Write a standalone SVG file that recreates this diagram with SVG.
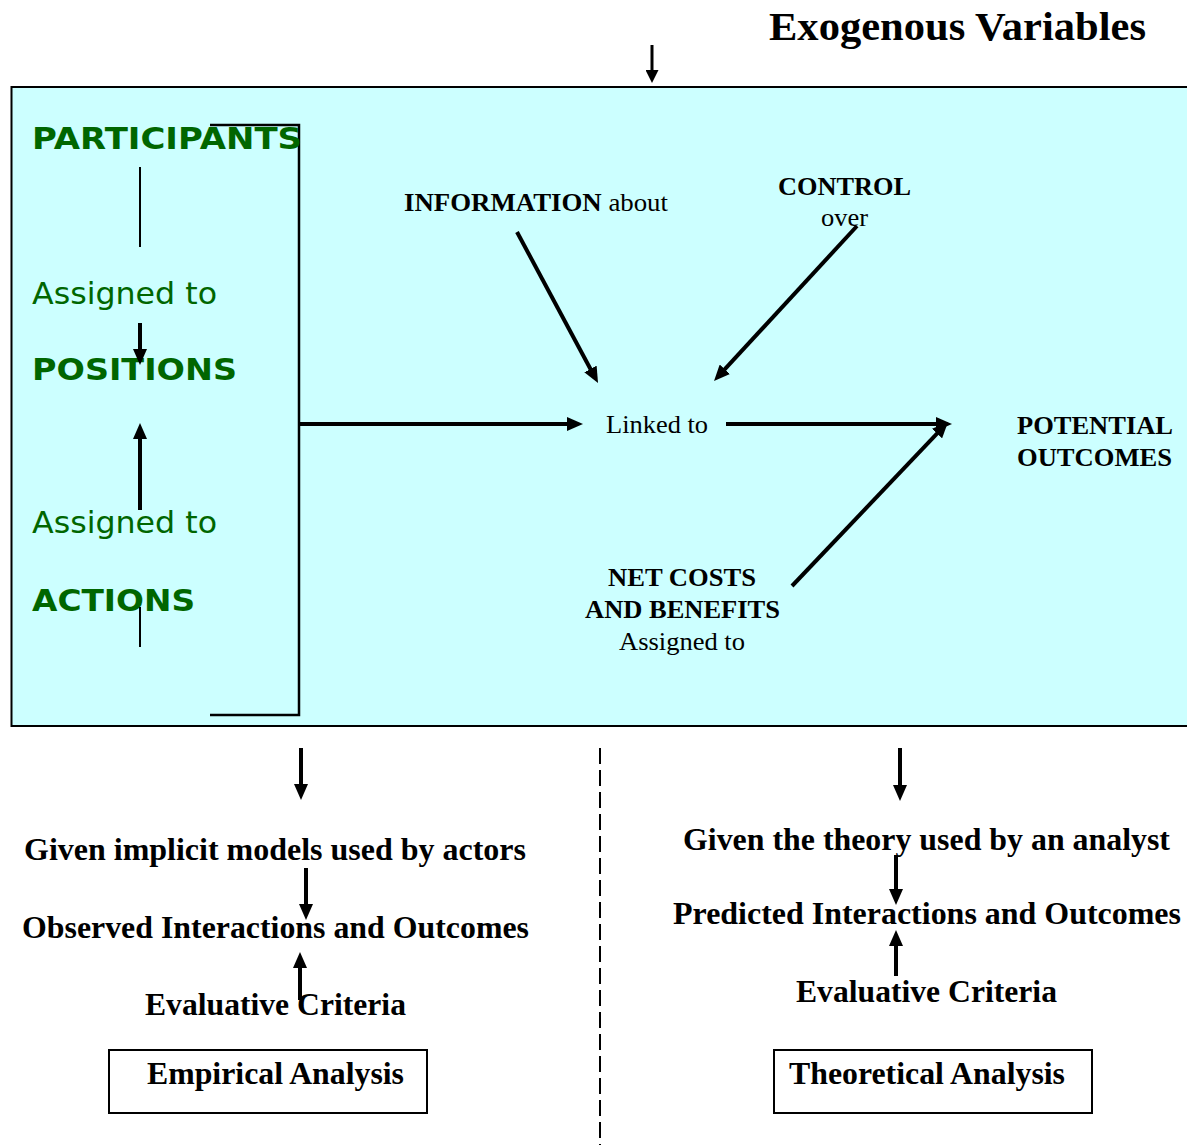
<svg xmlns="http://www.w3.org/2000/svg" width="1187" height="1145" viewBox="0 0 1187 1145">
<style>
.t{font-family:"Liberation Serif","Times New Roman",serif;fill:#000}
.b{font-weight:bold}
.g{font-family:"DejaVu Sans",Verdana,sans-serif;fill:#006600}
.ln{stroke:#000;fill:none}
.ar{stroke:#000;stroke-width:4;fill:none;marker-end:url(#ah)}
.ar3{stroke:#000;stroke-width:3;fill:none;marker-end:url(#ahs)}
</style>
<defs>
<marker id="ah" markerUnits="userSpaceOnUse" markerWidth="16" markerHeight="14" refX="2" refY="7" orient="auto"><path d="M0,0 L16,7 L0,14 z" fill="#000"/></marker>
<marker id="ahs" markerUnits="userSpaceOnUse" markerWidth="13" markerHeight="13" refX="2" refY="6.5" orient="auto"><path d="M0,0 L13,6.5 L0,13 z" fill="#000"/></marker>
</defs>
<rect width="1187" height="1145" fill="#fff"/>
<g id="title"><text class="t b" x="769" y="40" font-size="41" textLength="377" lengthAdjust="spacingAndGlyphs">Exogenous Variables</text></g>
<g id="action-situation">
<rect x="11.5" y="87" width="1190" height="639" fill="#CCFFFF" stroke="#000" stroke-width="2"/>
</g>
<g id="bracket">
<path class="ln" stroke-width="2.5" d="M210,125 H299 V715 H210"/>
</g>
<g id="participants"><text class="g b" x="32" y="149" font-size="31" textLength="270" lengthAdjust="spacingAndGlyphs">PARTICIPANTS</text></g>
<g id="assigned1"><text class="g" x="32" y="304" font-size="31" textLength="185" lengthAdjust="spacingAndGlyphs">Assigned to</text></g>
<g id="positions"><text class="g b" x="32" y="380" font-size="31" textLength="205" lengthAdjust="spacingAndGlyphs">POSITIONS</text></g>
<g id="assigned2"><text class="g" x="32" y="533" font-size="31" textLength="185" lengthAdjust="spacingAndGlyphs">Assigned to</text></g>
<g id="actions"><text class="g b" x="32" y="611" font-size="31" textLength="163" lengthAdjust="spacingAndGlyphs">ACTIONS</text></g>
<g id="information"><text class="t" x="404" y="211" font-size="26" textLength="264" lengthAdjust="spacingAndGlyphs"><tspan class="b">INFORMATION</tspan> about</text></g>
<g id="control">
<text class="t b" x="778" y="195" font-size="26" textLength="133" lengthAdjust="spacingAndGlyphs">CONTROL</text>
<text class="t" x="821" y="226" font-size="26" textLength="47" lengthAdjust="spacingAndGlyphs">over</text>
</g>
<g id="linked"><text class="t" x="606" y="433" font-size="26" textLength="102" lengthAdjust="spacingAndGlyphs">Linked to</text></g>
<g id="outcomes">
<text class="t b" x="1017" y="434" font-size="26" textLength="156" lengthAdjust="spacingAndGlyphs">POTENTIAL</text>
<text class="t b" x="1017" y="466" font-size="26" textLength="155" lengthAdjust="spacingAndGlyphs">OUTCOMES</text>
</g>
<g id="netcosts">
<text class="t b" x="608" y="586" font-size="26" textLength="148" lengthAdjust="spacingAndGlyphs">NET COSTS</text>
<text class="t b" x="585" y="618" font-size="26" textLength="195" lengthAdjust="spacingAndGlyphs">AND BENEFITS</text>
<text class="t" x="619" y="650" font-size="26" textLength="126" lengthAdjust="spacingAndGlyphs">Assigned to</text>
</g>
<g id="empirical">
<text class="t b" x="24" y="860" font-size="31" textLength="502" lengthAdjust="spacingAndGlyphs">Given implicit models used by actors</text>
<text class="t b" x="22" y="938" font-size="31" textLength="507" lengthAdjust="spacingAndGlyphs">Observed Interactions and Outcomes</text>
<text class="t b" x="145" y="1015" font-size="31" textLength="261" lengthAdjust="spacingAndGlyphs">Evaluative Criteria</text>
<rect x="109" y="1050" width="318" height="63" fill="none" stroke="#000" stroke-width="2"/>
<text class="t b" x="147" y="1084" font-size="31" textLength="257" lengthAdjust="spacingAndGlyphs">Empirical Analysis</text>
</g>
<g id="theoretical">
<text class="t b" x="683" y="850" font-size="31" textLength="487" lengthAdjust="spacingAndGlyphs">Given the theory used by an analyst</text>
<text class="t b" x="673" y="924" font-size="31" textLength="508" lengthAdjust="spacingAndGlyphs">Predicted Interactions and Outcomes</text>
<text class="t b" x="796" y="1002" font-size="31" textLength="261" lengthAdjust="spacingAndGlyphs">Evaluative Criteria</text>
<rect x="774" y="1050" width="318" height="63" fill="none" stroke="#000" stroke-width="2"/>
<text class="t b" x="789" y="1084" font-size="31" textLength="276" lengthAdjust="spacingAndGlyphs">Theoretical Analysis</text>
</g>
<g id="connectors">
<line class="ar3" x1="652" y1="45" x2="652" y2="72"/>
<line class="ln" stroke-width="2" x1="140" y1="167" x2="140" y2="247"/>
<line class="ar" x1="140" y1="323" x2="140" y2="351"/>
<line class="ar" x1="140" y1="510" x2="140" y2="437"/>
<line class="ln" stroke-width="2" x1="140" y1="607" x2="140" y2="647"/>
<line class="ar" x1="300" y1="424" x2="569" y2="424"/>
<line class="ar" x1="726" y1="424" x2="938" y2="424"/>
<line class="ar" x1="517" y1="232" x2="591.4" y2="370.7"/>
<line class="ar" x1="857" y1="226" x2="723.5" y2="370.7"/>
<line class="ar" x1="792" y1="586" x2="938.4" y2="432.1"/>
<line class="ln" stroke-width="2" stroke-dasharray="16,6" x1="600" y1="748" x2="600" y2="1145"/>
<line class="ar" x1="301" y1="748" x2="301" y2="786"/>
<line class="ar" x1="900" y1="748" x2="900" y2="787"/>
<line class="ar" x1="306" y1="868" x2="306" y2="906"/>
<line class="ar" x1="300" y1="1000" x2="300" y2="966"/>
<line class="ar" x1="896" y1="855" x2="896" y2="891"/>
<line class="ar" x1="896" y1="976" x2="896" y2="944"/>
</g>
</svg>
